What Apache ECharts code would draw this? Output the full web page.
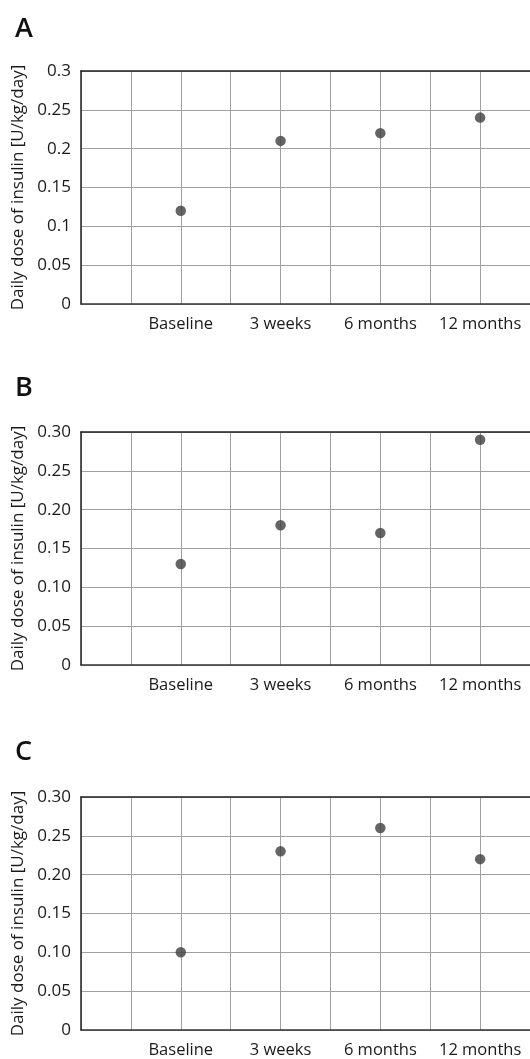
<!DOCTYPE html>
<html>
<head>
<meta charset="utf-8">
<script src="https://cdn.jsdelivr.net/npm/echarts@6/dist/echarts.min.js"></script>
<style>
html,body{margin:0;padding:0;background:#fff;}
#c{width:530px;height:1059px;}
</style>
</head>
<body>
<div id="c"></div>
<script>
const categories = ['Baseline', '3 weeks', '6 months', '12 months'];
const panelTitles = ['A', 'B', 'C'];
const valuesA = [0.12, 0.21, 0.22, 0.24];
const valuesB = [0.13, 0.18, 0.17, 0.29];
const valuesC = [0.10, 0.23, 0.26, 0.22];
const yTicksA = ['0', '0.05', '0.1', '0.15', '0.2', '0.25', '0.3'];
const yTicksBC = ['0', '0.05', '0.10', '0.15', '0.20', '0.25', '0.30'];
const yAxisName = 'Daily dose of insulin [U/kg/day]';

const FONT = 'Open Sans';
const TXT = '#1a1a1a';
const panels = [
  {values: valuesA, ticks: yTicksA, top: 71, titleTop: 11},
  {values: valuesB, ticks: yTicksBC, top: 432, titleTop: 370},
  {values: valuesC, ticks: yTicksBC, top: 797, titleTop: 734}
];

const option = {
  backgroundColor: '#fff',
  animation: false,
  title: panels.map((p, i) => ({
    text: panelTitles[i], left: 10, top: p.titleTop,
    textStyle: {fontFamily: FONT, fontSize: 27, fontWeight: 600, color: '#111'}
  })),
  grid: panels.map(p => ({left: 81, right: 0, top: p.top, height: 233, outerBoundsMode: 'none', containLabel: false})),
  xAxis: [],
  yAxis: [],
  series: []
};

panels.forEach((p, i) => {
  option.xAxis.push({
    type: 'value', gridIndex: i, min: 0, max: categories.length + 0.5, interval: 0.5,
    axisLine: {show: true, onZero: false, lineStyle: {color: '#333', width: 1.5}},
    axisTick: {show: false},
    splitLine: {show: true, lineStyle: {color: '#a0a0a0', width: 1}},
    axisLabel: {
      margin: 12, color: TXT, fontFamily: FONT, fontSize: 16.5,
      showMaxLabel: true, showMinLabel: true,
      formatter: v => (Number.isInteger(v) && v >= 1 && v <= categories.length) ? categories[v - 1] : ''
    }
  });
  option.xAxis.push({
    type: 'value', gridIndex: i, position: 'top', min: 0, max: categories.length + 0.5,
    axisLine: {show: true, onZero: false, lineStyle: {color: '#222', width: 1.5}},
    axisTick: {show: false}, axisLabel: {show: false}, splitLine: {show: false}
  });
  option.yAxis.push({
    type: 'value', gridIndex: i, min: 0, max: 0.3, interval: 0.05,
    name: yAxisName, nameLocation: 'middle', nameGap: 54,
    nameTextStyle: {fontFamily: FONT, fontSize: 17, color: TXT},
    axisLine: {show: true, lineStyle: {color: '#222', width: 1.5}},
    axisTick: {show: false},
    splitLine: {show: true, lineStyle: {color: '#a0a0a0', width: 1}},
    axisLabel: {
      margin: 10, color: TXT, fontFamily: FONT, fontSize: 17,
      formatter: (v) => p.ticks[Math.round(v / 0.05)]
    }
  });
  option.series.push({
    type: 'scatter', xAxisIndex: i * 2, yAxisIndex: i,
    symbolSize: 10.5,
    itemStyle: {color: '#3f3f3f'},
    data: p.values.map((v, k) => [k + 1, v])
  });
});

const chart = echarts.init(document.getElementById('c'), null, {renderer: 'canvas'});
chart.setOption(option);
</script>
</body>
</html>
